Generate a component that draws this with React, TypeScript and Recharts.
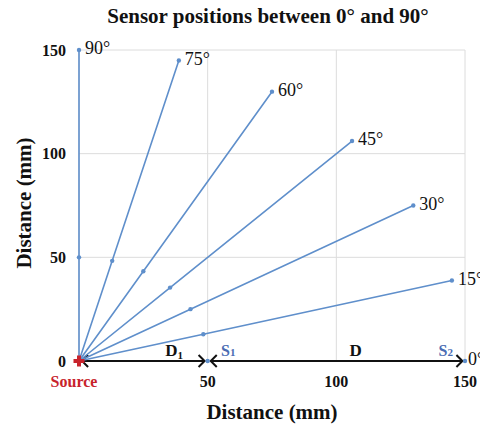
import React from 'react';
import {
  LineChart,
  Line,
  XAxis,
  YAxis,
  CartesianGrid,
  ReferenceLine,
  ReferenceDot,
  LabelList,
  Customized,
} from 'recharts';

// ---- data ----
const xTicks = [0, 50, 100, 150];
const yTicks = [0, 50, 100, 150];

const s90 = [{ x: 0, y: 0 }, { x: 0, y: 50 }, { x: 0, y: 150 }];
const s75 = [{ x: 0, y: 0 }, { x: 12.9, y: 48.3 }, { x: 38.8, y: 144.9 }];
const s60 = [{ x: 0, y: 0 }, { x: 25, y: 43.3 }, { x: 75, y: 129.9 }];
const s45 = [{ x: 0, y: 0 }, { x: 35.4, y: 35.4 }, { x: 106.1, y: 106.1 }];
const s30 = [{ x: 0, y: 0 }, { x: 43.3, y: 25 }, { x: 129.9, y: 75 }];
const s15 = [{ x: 0, y: 0 }, { x: 48.3, y: 12.9 }, { x: 144.9, y: 38.8 }];
const s0 = [{ x: 0, y: 0 }, { x: 50, y: 0 }, { x: 150, y: 0 }];

const seriesList = [
  { name: '90°', data: s90 },
  { name: '75°', data: s75 },
  { name: '60°', data: s60 },
  { name: '45°', data: s45 },
  { name: '30°', data: s30 },
  { name: '15°', data: s15 },
];

// distance arrows along the 0° axis (from, to)
const arrowSegments = [
  [1.2, 48.8],
  [51.2, 149],
];

// annotations along the 0° axis
const axisNotes = [
  { main: 'D', sub: '1', x: 37, kind: 'dist' },
  { main: 'S', sub: '1', x: 58, kind: 'sensor' },
  { main: 'D', sub: '', x: 107.5, kind: 'dist' },
  { main: 'S', sub: '2', x: 142.5, kind: 'sensor' },
];

const title = 'Sensor positions between 0° and 90°';
const axisTitle = 'Distance (mm)';
const sourceLabel = 'Source';

// ---- styles ----
const FONT = '"Liberation Serif", "Times New Roman", serif';
const BLUE = '#5f8fcb';
const SBLUE = '#4a6cb3';
const RED = '#c8232c';

const dotRenderer = (props: any) => {
  const { cx, cy, index } = props;
  if (index === 0) return <g key={`d${index}`} />;
  return <circle key={`d${index}`} cx={cx} cy={cy} r={2.2} fill={BLUE} />;
};

const endLabel = (text: string, dx = 6) => (props: any) => {
  const { x, y, index } = props;
  if (index !== 2) return null;
  return (
    <text x={x + dx} y={y + 4} fontFamily={FONT} fontSize={18} fill="#111">
      {text}
    </text>
  );
};

const XTick = (props: any) => {
  const { x, y, payload } = props;
  if (payload.value === 0) {
    return (
      <text x={x - 5} y={y + 26} textAnchor="middle" fontFamily={FONT} fontWeight="bold" fontSize={16} fill={RED}>
        {sourceLabel}
      </text>
    );
  }
  return (
    <text x={x} y={y + 26} textAnchor="middle" fontFamily={FONT} fontWeight="bold" fontSize={16} fill="#111">
      {payload.value}
    </text>
  );
};

const YTick = (props: any) => {
  const { x, y, payload } = props;
  return (
    <text x={x - 13} y={y + 5.5} textAnchor="end" fontFamily={FONT} fontWeight="bold" fontSize={16} fill="#111">
      {payload.value}
    </text>
  );
};

const arrowShape = (props: any) => {
  const { x1, y1, x2, y2 } = props;
  const h = 6;
  return (
    <g>
      <line x1={x1} y1={y1} x2={x2} y2={y2} stroke="#111" strokeWidth={2} />
      <polyline points={`${x1 + h},${y1 - h} ${x1},${y1} ${x1 + h},${y1 + h}`} fill="none" stroke="#111" strokeWidth={2} />
      <polyline points={`${x2 - h},${y2 - h} ${x2},${y2} ${x2 - h},${y2 + h}`} fill="none" stroke="#111" strokeWidth={2} />
    </g>
  );
};

const noteShape = (note: any) => (props: any) => {
  const { cx, cy } = props;
  const isSensor = note.kind === 'sensor';
  return (
    <text
      x={cx}
      y={cy - 5}
      textAnchor="middle"
      fontFamily={FONT}
      fontWeight="bold"
      fontSize={isSensor ? 16 : 17}
      fill={isSensor ? SBLUE : '#111'}
    >
      {note.main}
      {note.sub ? (
        <tspan fontSize={11} dy={isSensor ? 0 : 3}>
          {note.sub}
        </tspan>
      ) : null}
    </text>
  );
};

const sourceShape = (props: any) => {
  const { cx, cy } = props;
  return (
    <g>
      <rect x={cx - 5.5} y={cy - 2} width={11} height={4} fill={RED} />
      <rect x={cx - 2} y={cy - 5.5} width={4} height={11} fill={RED} />
    </g>
  );
};

const TitleText = () => (
  <g>
    <text x={268} y={23} textAnchor="middle" fontFamily={FONT} fontWeight="bold" fontSize={21} fill="#111">
      {title}
    </text>
    <text x={272} y={419} textAnchor="middle" fontFamily={FONT} fontWeight="bold" fontSize={21} fill="#111">
      {axisTitle}
    </text>
    <text
      x={24}
      y={203}
      textAnchor="middle"
      transform="rotate(-90, 24, 203)"
      dominantBaseline="central"
      fontFamily={FONT}
      fontWeight="bold"
      fontSize={21}
      fill="#111"
    >
      {axisTitle}
    </text>
  </g>
);

export default function App() {
  return (
    <div style={{ position: 'absolute', left: 0, top: 0, width: 480, height: 425, background: '#fff' }}>
      <LineChart width={480} height={425} margin={{ top: 50, right: 15, bottom: 0, left: 0 }}>
        <CartesianGrid stroke="#dcdcdc" strokeWidth={1} />
        <XAxis
          type="number"
          dataKey="x"
          domain={[0, 150]}
          ticks={xTicks}
          height={64}
          axisLine={false}
          tickLine={false}
          tickSize={0}
          tickMargin={0}
          tick={<XTick />}
          interval={0}
        />
        <YAxis
          type="number"
          dataKey="y"
          domain={[0, 150]}
          ticks={yTicks}
          width={79}
          axisLine={false}
          tickLine={false}
          tickSize={0}
          tickMargin={0}
          tick={<YTick />}
          interval={0}
        />
        {arrowSegments.map((seg, i) => (
          <ReferenceLine
            key={`a${i}`}
            segment={[
              { x: seg[0], y: 0 },
              { x: seg[1], y: 0 },
            ]}
            ifOverflow="visible"
            shape={arrowShape}
          />
        ))}
        {seriesList.map((s) => (
          <Line
            key={s.name}
            data={s.data}
            dataKey="y"
            type="linear"
            stroke={BLUE}
            strokeWidth={1.6}
            dot={dotRenderer}
            activeDot={false}
            isAnimationActive={false}
          >
            <LabelList dataKey="y" content={endLabel(s.name)} />
          </Line>
        ))}
        <Line
          data={s0}
          dataKey="y"
          type="linear"
          stroke="none"
          dot={dotRenderer}
          activeDot={false}
          isAnimationActive={false}
        >
          <LabelList dataKey="y" content={endLabel('0°', 3)} />
        </Line>
        {axisNotes.map((n, i) => (
          <ReferenceDot key={`n${i}`} x={n.x} y={0} r={0} ifOverflow="visible" shape={noteShape(n)} />
        ))}
        <ReferenceDot x={0} y={0} r={5} ifOverflow="visible" shape={sourceShape} />
        <Customized component={TitleText} />
      </LineChart>
    </div>
  );
}
